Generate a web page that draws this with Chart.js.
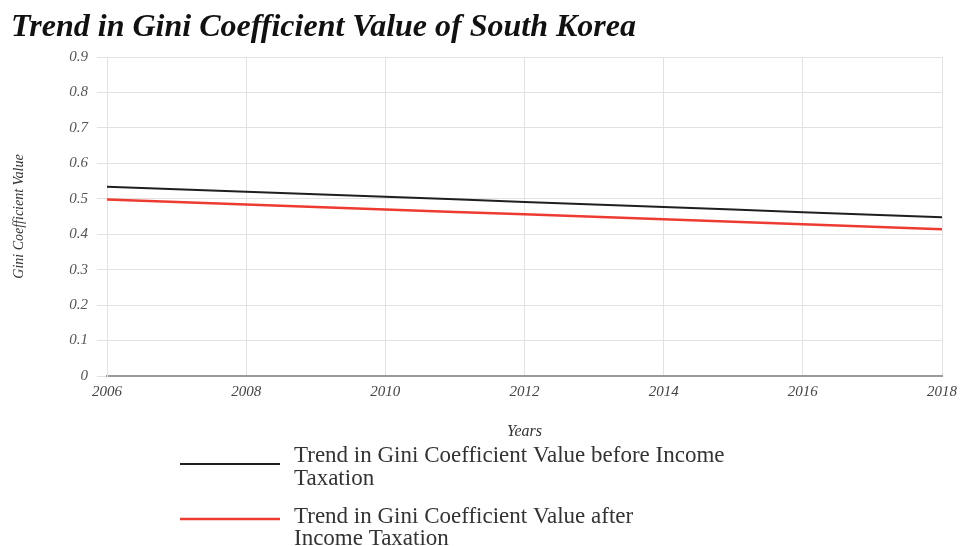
<!DOCTYPE html>
<html>
<head>
<meta charset="utf-8">
<script src="https://cdn.jsdelivr.net/npm/chart.js@4.4.1/dist/chart.umd.min.js"></script>
<style>
  html, body { margin: 0; padding: 0; background: #fff; }
  #wrap { width: 965px; height: 546px; position: relative; }
</style>
</head>
<body>
<div id="wrap"><canvas id="giniChart" width="965" height="546"></canvas></div>
<script>
// data
const years = [2006, 2007, 2008, 2009, 2010, 2011, 2012, 2013, 2014, 2015, 2016, 2017, 2018];
const beforeTax = [0.534, 0.527, 0.520, 0.513, 0.506, 0.499, 0.491, 0.484, 0.477, 0.470, 0.462, 0.455, 0.448];
const afterTax = [0.498, 0.491, 0.484, 0.477, 0.470, 0.463, 0.456, 0.449, 0.442, 0.435, 0.428, 0.421, 0.414];
const yTicks = [0, 0.1, 0.2, 0.3, 0.4, 0.5, 0.6, 0.7, 0.8, 0.9];
const xTicks = [2006, 2008, 2010, 2012, 2014, 2016, 2018];

const seriesNames = [
    'Trend in Gini Coefficient Value before Income Taxation',
    'Trend in Gini Coefficient Value after Income Taxation'
];
// line breaks as they appear in the legend
const legendLines = [
    ['Trend in Gini Coefficient Value before Income', 'Taxation'],
    ['Trend in Gini Coefficient Value after', 'Income Taxation']
];

const serif = "'Liberation Serif', 'Times New Roman', serif";

function toPoints(values) {
    return years.map((y, i) => ({ x: y, y: values[i] }));
}

// Legend under the chart, with wrapped labels
const wrapLegend = {
    id: 'wrapLegend',
    afterDraw(chart) {
        const ctx = chart.ctx;
        const lineY = [464, 519];
        const textY = [[456, 479], [517, 539]];
        ctx.save();
        chart.data.datasets.forEach((ds, i) => {
            ctx.strokeStyle = ds.borderColor;
            ctx.lineWidth = ds.borderWidth;
            ctx.beginPath();
            ctx.moveTo(180, lineY[i]);
            ctx.lineTo(280, lineY[i]);
            ctx.stroke();

            ctx.fillStyle = '#333';
            ctx.font = '23px ' + serif;
            ctx.textAlign = 'left';
            ctx.textBaseline = 'middle';
            legendLines[i].forEach((line, j) => {
                ctx.fillText(line, 294, textY[i][j]);
            });
        });
        ctx.restore();
    }
};

const ctx = document.getElementById('giniChart').getContext('2d');
const giniChart = new Chart(ctx, {
    type: 'line',
    data: {
        datasets: [{
            label: seriesNames[0],
            data: toPoints(beforeTax),
            borderColor: '#1f1f1f',
            borderWidth: 2,
            pointRadius: 0,
            tension: 0
        }, {
            label: seriesNames[1],
            data: toPoints(afterTax),
            borderColor: '#ee3b32',
            borderWidth: 2.5,
            pointRadius: 0,
            tension: 0
        }]
    },
    options: {
        responsive: false,
        animation: false,
        layout: {
            padding: { left: 11, right: 23, top: 0, bottom: 100.4 }
        },
        plugins: {
            legend: { display: false },
            tooltip: { enabled: false },
            title: {
                display: true,
                text: 'Trend in Gini Coefficient Value of South Korea',
                align: 'start',
                color: '#111',
                font: { family: serif, size: 32, style: 'italic', weight: 'bold' },
                padding: { top: 9, bottom: 9.6 }
            }
        },
        scales: {
            x: {
                type: 'linear',
                min: 2006,
                max: 2018,
                afterBuildTicks: (scale) => {
                    scale.ticks = xTicks.map(v => ({ value: v }));
                },
                afterFit: (scale) => { scale.height = 69.6; },
                ticks: {
                    color: '#444',
                    padding: 7,
                    maxRotation: 0,
                    font: { family: serif, size: 15, style: 'italic' },
                    callback: (v) => String(v)
                },
                grid: { color: '#e2e2e2', tickLength: 0 },
                border: { color: '#9a9a9a', width: 2 },
                title: {
                    display: true,
                    text: 'Years',
                    color: '#333',
                    font: { family: serif, size: 16, style: 'italic' },
                    padding: { top: 4, bottom: 4 }
                }
            },
            y: {
                min: 0,
                max: 0.9,
                afterBuildTicks: (scale) => {
                    scale.ticks = yTicks.map(v => ({ value: v }));
                },
                afterFit: (scale) => { scale.width = 96; },
                ticks: {
                    color: '#555',
                    padding: 9,
                    font: { family: serif, size: 15, style: 'italic' },
                    callback: (v) => String(v)
                },
                grid: { color: '#e2e2e2', tickLength: 10 },
                border: { color: '#e2e2e2' },
                title: {
                    display: true,
                    text: 'Gini Coefficient Value',
                    color: '#333',
                    font: { family: serif, size: 14, style: 'italic' },
                    padding: { top: 0, bottom: 4 }
                }
            }
        }
    },
    plugins: [wrapLegend]
});
</script>
</body>
</html>
